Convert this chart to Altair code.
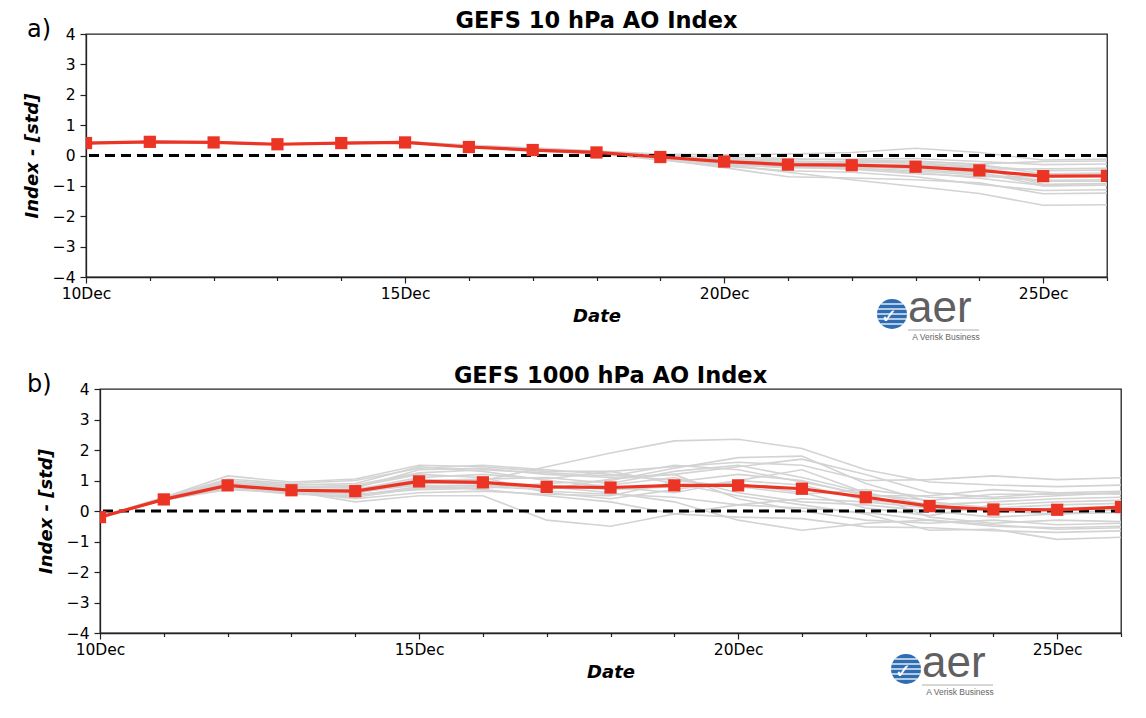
import math
import altair as alt
import pandas as pd

# ---------------- data ----------------
days = [10, 11, 12, 13, 14, 15, 16, 17, 18, 19, 20, 21, 22, 23, 24, 25, 26]
y_ticks = [-4, -3, -2, -1, 0, 1, 2, 3, 4]

mean_10hpa = [0.41, 0.45, 0.43, 0.37, 0.41, 0.43, 0.28, 0.18, 0.10, -0.05, -0.20,
              -0.30, -0.32, -0.37, -0.49, -0.68, -0.67]
mean_1000hpa = [-0.20, 0.38, 0.84, 0.68, 0.65, 0.97, 0.94, 0.79, 0.77, 0.84, 0.84,
                0.73, 0.45, 0.16, 0.05, 0.04, 0.13]

members_10hpa = {
    "m01": [0.42, 0.46, 0.44, 0.38, 0.42, 0.45, 0.33, 0.25, 0.15, 0.05, 0.02, 0.05, 0.10, 0.24, 0.10, -0.15, -0.12],
    "m02": [0.41, 0.45, 0.43, 0.37, 0.41, 0.44, 0.30, 0.20, 0.12, -0.02, -0.10, -0.15, -0.12, -0.10, -0.20, -0.30, -0.28],
    "m03": [0.40, 0.44, 0.42, 0.36, 0.40, 0.42, 0.27, 0.16, 0.06, -0.15, -0.35, -0.50, -0.55, -0.70, -0.95, -1.15, -1.13],
    "m04": [0.41, 0.46, 0.44, 0.38, 0.43, 0.46, 0.34, 0.24, 0.14, -0.05, -0.30, -0.55, -0.80, -1.02, -1.25, -1.64, -1.62],
    "m05": [0.42, 0.45, 0.43, 0.37, 0.41, 0.43, 0.29, 0.19, 0.10, -0.08, -0.30, -0.40, -0.42, -0.50, -0.65, -0.85, -0.85],
    "m06": [0.40, 0.44, 0.42, 0.36, 0.40, 0.43, 0.30, 0.21, 0.13, 0.02, -0.12, -0.20, -0.22, -0.25, -0.35, -0.50, -0.48],
    "m07": [0.41, 0.45, 0.43, 0.37, 0.42, 0.44, 0.31, 0.22, 0.12, -0.10, -0.28, -0.35, -0.38, -0.40, -0.55, -1.00, -0.98],
    "m08": [0.41, 0.45, 0.44, 0.38, 0.41, 0.44, 0.29, 0.18, 0.08, -0.12, -0.40, -0.70, -0.74, -0.80, -0.90, -1.26, -1.24],
    "m09": [0.42, 0.46, 0.43, 0.37, 0.42, 0.45, 0.32, 0.23, 0.14, 0.00, -0.15, -0.22, -0.20, -0.18, -0.30, -0.60, -0.58],
    "m10": [0.40, 0.44, 0.42, 0.37, 0.40, 0.43, 0.28, 0.17, 0.09, -0.06, -0.22, -0.30, -0.35, -0.45, -0.60, -0.82, -0.80],
    "m11": [0.41, 0.45, 0.43, 0.37, 0.41, 0.44, 0.31, 0.20, 0.11, -0.03, -0.18, -0.28, -0.32, -0.30, -0.40, -0.95, -0.92],
    "m12": [0.41, 0.45, 0.43, 0.37, 0.41, 0.43, 0.30, 0.22, 0.12, -0.04, -0.20, -0.32, -0.40, -0.55, -0.75, -0.99, -0.97],
    "m13": [0.42, 0.46, 0.44, 0.38, 0.42, 0.45, 0.32, 0.21, 0.10, -0.08, -0.26, -0.38, -0.45, -0.60, -0.70, -0.70, -0.68],
    "m14": [0.41, 0.45, 0.43, 0.37, 0.41, 0.44, 0.30, 0.19, 0.11, -0.02, -0.15, -0.25, -0.28, -0.33, -0.45, -0.44, -0.42],
    "m15": [0.40, 0.44, 0.42, 0.36, 0.40, 0.42, 0.28, 0.18, 0.12, 0.00, -0.05, -0.10, -0.15, -0.20, -0.28, -0.20, -0.18],
}

members_1000hpa = {
    "b01": [-0.20, 0.40, 0.85, 0.70, 0.65, 1.00, 1.00, 1.45, 1.90, 2.30, 2.35, 2.05, 1.35, 0.95, 0.85, 0.80, 0.85],
    "b02": [-0.20, 0.45, 1.15, 0.95, 1.05, 1.50, 1.45, 1.30, 1.30, 1.45, 1.60, 1.50, 1.00, 1.03, 1.15, 1.03, 1.09],
    "b03": [-0.20, 0.38, 0.80, 0.65, 0.30, 0.50, 0.50, -0.30, -0.50, -0.10, 0.20, 0.40, 0.30, 0.10, 0.00, -0.10, -0.05],
    "b04": [-0.20, 0.42, 0.95, 0.80, 0.75, 1.35, 1.40, 1.20, 1.10, 1.20, 1.45, 1.70, 1.20, 0.60, 0.45, 0.60, 0.65],
    "b05": [-0.20, 0.35, 0.75, 0.55, 0.50, 0.80, 0.85, 0.80, 0.60, 0.30, -0.30, -0.63, -0.40, -0.30, -0.50, -0.55, -0.50],
    "b06": [-0.20, 0.40, 0.90, 0.75, 0.80, 1.20, 1.10, 0.60, 0.40, 0.70, 1.00, 0.85, 0.35, 0.20, 0.30, 0.40, 0.45],
    "b07": [-0.20, 0.37, 0.70, 0.60, 0.55, 0.70, 0.75, 0.90, 1.00, 1.40, 1.75, 1.80, 0.90, 0.30, 0.10, 0.20, 0.25],
    "b08": [-0.20, 0.40, 0.85, 0.70, 0.70, 1.10, 1.20, 1.05, 1.30, 0.90, 0.50, 0.20, -0.10, -0.63, -0.60, -0.93, -0.86],
    "b09": [-0.20, 0.43, 1.00, 0.85, 0.90, 1.45, 1.30, 1.00, 0.80, 0.60, 1.00, 1.35, 0.60, -0.20, -0.40, -0.30, -0.35],
    "b10": [-0.20, 0.36, 0.78, 0.62, 0.40, 0.60, 0.65, 0.55, 0.50, 0.95, 1.20, 1.00, 0.50, 0.50, 0.70, 0.60, 0.55],
    "b11": [-0.20, 0.41, 0.88, 0.72, 0.65, 1.05, 0.95, 0.75, 0.85, 1.10, 0.60, 0.30, 0.20, 0.00, -0.20, -0.10, 0.05],
    "b12": [-0.20, 0.39, 0.82, 0.66, 0.60, 0.90, 0.90, 0.85, 0.70, 0.80, 0.90, 0.60, 0.10, -0.15, 0.20, 0.30, 0.35],
    "b13": [-0.20, 0.44, 1.05, 0.90, 1.00, 1.40, 1.50, 1.35, 1.20, 1.00, 0.80, 0.55, 0.70, 0.45, 0.40, 0.50, 0.60],
    "b14": [-0.20, 0.38, 0.80, 0.68, 0.62, 0.85, 0.70, 0.50, 0.30, -0.10, -0.20, -0.25, -0.52, -0.55, -0.65, -0.70, -0.65],
    "b15": [-0.20, 0.40, 0.86, 0.70, 0.68, 1.00, 1.05, 1.10, 0.90, 1.30, 1.50, 1.10, 0.60, 0.20, 0.00, 0.10, 0.15],
    "b16": [-0.20, 0.37, 0.76, 0.58, 0.45, 0.75, 0.80, 0.70, 1.05, 1.20, 0.40, 0.00, -0.30, -0.40, -0.30, -0.45, -0.40],
    "b17": [-0.20, 0.41, 0.92, 0.78, 0.85, 1.25, 1.35, 1.25, 1.15, 1.50, 1.35, 0.95, 0.55, 0.35, 0.55, 0.55, 0.60],
    "b18": [-0.20, 0.39, 0.83, 0.64, 0.58, 0.95, 0.98, 0.65, 0.55, 0.45, 0.20, 0.10, -0.05, -0.30, -0.45, -0.60, -0.55],
}

titles = ["GEFS 10 hPa AO Index", "GEFS 1000 hPa AO Index"]
panel_tags = ["a)", "b)"]
logo_word = "aer"
logo_tagline = "A Verisk Business"

# ---------------- style ----------------
FONT = "DejaVu Sans"
GREY = "#d3d3d3"
RED = "#ec3424"
SPINE = "#222222"
PLOT_W = 1021

# logo geometry (decoration, relative to the plot's top-left corner)
GLOBE_X, GLOBE_Y, GLOBE_R = 806, 280, 15
STRIPE_DY = [-10, -5, 0, 5, 10]


def logo_layers():
    one = pd.DataFrame({"g": [0]})
    layers = [
        alt.Chart(one).mark_point(
            shape="circle", filled=True, size=(2 * GLOBE_R) ** 2, color="#2f6db3", opacity=1
        ).encode(x=alt.value(GLOBE_X), y=alt.value(GLOBE_Y))
    ]
    for dy in STRIPE_DY:
        half = math.sqrt(GLOBE_R ** 2 - dy ** 2)
        layers.append(
            alt.Chart(one).mark_rule(color="white", strokeWidth=1.3).encode(
                x=alt.value(GLOBE_X - half), x2=alt.value(GLOBE_X + half),
                y=alt.value(GLOBE_Y + dy),
            )
        )
    layers.append(
        alt.Chart(pd.DataFrame({"t": ["\u2713"]})).mark_text(
            font=FONT, fontSize=20, fontWeight="bold", color="white",
            align="center", baseline="middle"
        ).encode(text="t:N", x=alt.value(GLOBE_X - 3), y=alt.value(GLOBE_Y + 3))
    )
    layers.append(
        alt.Chart(pd.DataFrame({"t": [logo_word]})).mark_text(
            font="Liberation Sans", fontSize=44, color="#5f6062",
            align="left", baseline="alphabetic"
        ).encode(text="t:N", x=alt.value(822), y=alt.value(288))
    )
    layers.append(
        alt.Chart(one).mark_rule(color="#9a9a9a", strokeWidth=0.8).encode(
            x=alt.value(822), x2=alt.value(893), y=alt.value(296)
        )
    )
    layers.append(
        alt.Chart(pd.DataFrame({"t": [logo_tagline]})).mark_text(
            font="Liberation Sans", fontSize=8.5, color="#666666",
            align="center", baseline="middle"
        ).encode(text="t:N", x=alt.value(860), y=alt.value(302.5))
    )
    return layers


def panel(title, members, mean, tag, tag_x, plot_h):
    long = pd.DataFrame(
        [{"member": name, "day": d, "value": v}
         for name, vals in members.items() for d, v in zip(days, vals)]
    )
    mdf = pd.DataFrame({"day": days, "value": mean})
    xs = alt.Scale(domain=[days[0], days[-1]], nice=False, zero=False)
    ys = alt.Scale(domain=[y_ticks[0], y_ticks[-1]], nice=False, zero=False)

    xaxis = alt.Axis(
        values=days,
        labelExpr="datum.value % 5 == 0 ? datum.value + 'Dec' : ''",
        tickSize={"condition": {"test": "datum.value % 5 == 0", "value": 6}, "value": 3.5},
        title="Date", labelFlush=False, labelOverlap=False,
        labelPadding=3, titlePadding=6,
    )
    yaxis = alt.Axis(
        values=y_ticks, tickCount=9, title="Index - [std]", labelFlush=False,
        labelOverlap=False, tickSize=6, labelPadding=5, titlePadding=11,
    )
    X = alt.X("day:Q", scale=xs, axis=xaxis)
    Y = alt.Y("value:Q", scale=ys, axis=yaxis)

    grey = alt.Chart(long).mark_line(color=GREY, strokeWidth=1.6, clip=True).encode(
        x=X, y=Y, detail="member:N",
    )
    zero = alt.Chart(pd.DataFrame({"value": [0]})).mark_rule(
        color="black", strokeWidth=2.8, strokeDash=[10, 6]
    ).encode(y=Y)
    red_line = alt.Chart(mdf).mark_line(color=RED, strokeWidth=3.2, clip=True).encode(x=X, y=Y)
    red_pts = alt.Chart(mdf).mark_point(
        shape="square", filled=True, size=150, color=RED, opacity=1, clip=True
    ).encode(x=X, y=Y)

    tag_txt = alt.Chart(pd.DataFrame({"t": [tag]})).mark_text(
        font=FONT, fontSize=24, align="left", baseline="middle", color="black"
    ).encode(text="t:N", x=alt.value(tag_x), y=alt.value(-4))

    return alt.layer(
        grey, zero, red_line, red_pts, tag_txt, *logo_layers()
    ).properties(
        width=PLOT_W, height=plot_h, title=title,
        view=alt.ViewBackground(stroke=SPINE, strokeWidth=1.3),
    )


top = panel(titles[0], members_10hpa, mean_10hpa, panel_tags[0], -59, 243)
bottom = panel(titles[1], members_1000hpa, mean_1000hpa, panel_tags[1], -73, 244)

spacer = alt.Chart(pd.DataFrame({"s": [0]})).mark_point(opacity=0).encode(
    x=alt.value(0), y=alt.value(0)
).properties(width=14, height=10, view=alt.ViewBackground(stroke="transparent"))

bottom_row = alt.hconcat(spacer, bottom, spacing=0, bounds="flush")

chart = alt.vconcat(top, bottom_row, spacing=112, bounds="flush").properties(
    padding={"left": 14, "top": 0, "right": 5, "bottom": 5}
).configure_axis(
    grid=False, domainColor=SPINE, domainWidth=1.3, tickColor=SPINE, tickWidth=1.2,
    labelFont=FONT, labelFontSize=15.5, labelColor="black",
    titleFont=FONT, titleFontSize=18, titleFontWeight="bold", titleFontStyle="italic",
    titleColor="black",
).configure_title(
    font=FONT, fontSize=22.5, fontWeight="bold", color="black", anchor="middle",
    frame="group", offset=-14,
)

chart.save("out.html", embed_options={"renderer": "svg", "actions": False})
